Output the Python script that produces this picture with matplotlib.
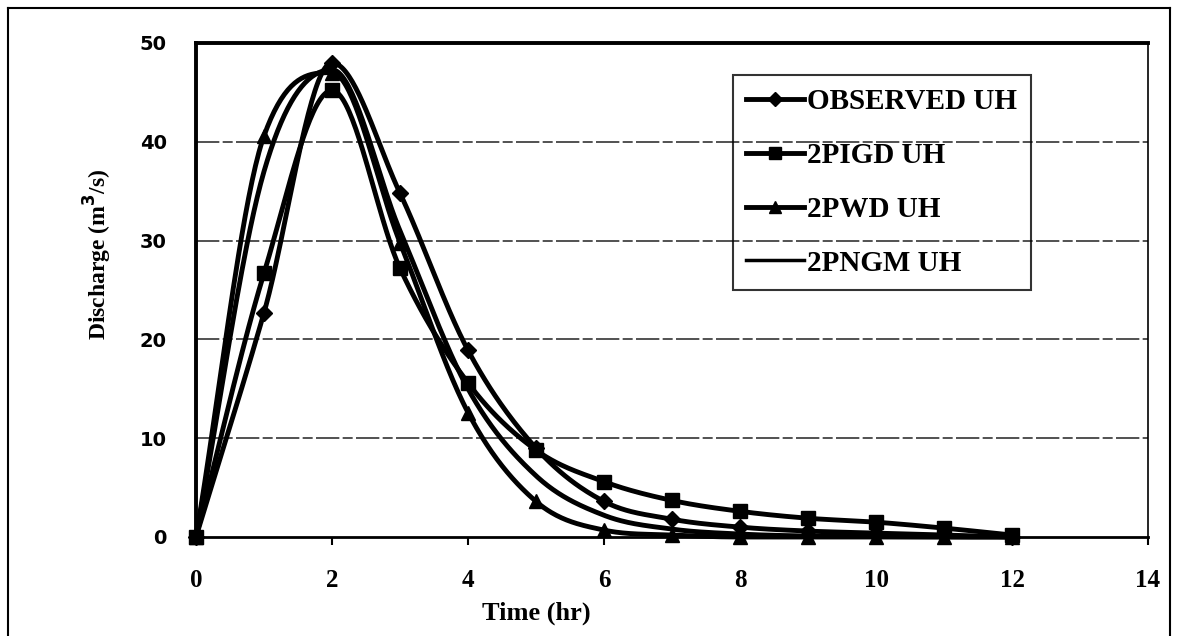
import numpy as np
import matplotlib
matplotlib.use("Agg")
import matplotlib.pyplot as plt
from matplotlib.lines import Line2D

time_hr = [0, 1, 2, 3, 4, 5, 6, 7, 8, 9, 10, 11, 12]
observed = [0, 22.7, 48.0, 34.8, 18.9, 9.0, 3.6, 1.8, 1.0, 0.6, 0.4, 0.2, 0.0]
pigd = [0, 26.7, 45.2, 27.2, 15.6, 8.8, 5.6, 3.7, 2.6, 1.9, 1.5, 0.9, 0.2]
pwd = [0, 40.6, 47.0, 29.8, 12.6, 3.6, 0.7, 0.2, 0.0, 0.0, 0.0, 0.0, 0.0]
pngm = [0, 37.0, 47.3, 31.0, 15.0, 6.2, 2.2, 0.8, 0.3, 0.1, 0.05, 0.0, 0.0]

labels = ["OBSERVED UH", "2PIGD UH", "2PWD UH", "2PNGM UH"]
yticks = [0, 10, 20, 30, 40, 50]
xticks = [0, 2, 4, 6, 8, 10, 12, 14]


def smooth(x, y, n=40):
    # smoothed line drawn through the data points (Catmull-Rom tangents,
    # limited so the curve does not overshoot the peaks)
    x = np.asarray(x, float)
    y = np.asarray(y, float)
    h = np.diff(x)
    d = np.diff(y) / h
    m = np.zeros_like(y)
    m[0], m[-1] = d[0], d[-1]
    for i in range(1, len(x) - 1):
        if d[i - 1] * d[i] <= 0:
            m[i] = 0.0
        else:
            m[i] = (y[i + 1] - y[i - 1]) / (x[i + 1] - x[i - 1])
    for i in range(len(x) - 1):
        if d[i] == 0:
            m[i] = m[i + 1] = 0.0
            continue
        a = m[i] / d[i]
        b = m[i + 1] / d[i]
        s = a * a + b * b
        if s > 9:
            tau = 3 / np.sqrt(s)
            m[i] = tau * a * d[i]
            m[i + 1] = tau * b * d[i]
    xs, ys = [], []
    for i in range(len(x) - 1):
        t = np.linspace(0, 1, n, endpoint=(i == len(x) - 2))
        h00 = 2 * t ** 3 - 3 * t ** 2 + 1
        h10 = t ** 3 - 2 * t ** 2 + t
        h01 = -2 * t ** 3 + 3 * t ** 2
        h11 = t ** 3 - t ** 2
        xs.append(x[i] + t * h[i])
        ys.append(h00 * y[i] + h10 * h[i] * m[i] + h01 * y[i + 1] + h11 * h[i] * m[i + 1])
    return np.concatenate(xs), np.concatenate(ys)


plt.rcParams['font.family'] = ['Liberation Serif', 'DejaVu Serif']
plt.rcParams['font.weight'] = 'bold'

fig = plt.figure(figsize=(11.78, 6.36), dpi=100)
ax = fig.add_axes([196 / 1178, 1 - 537 / 636, (1148 - 196) / 1178, (537 - 43) / 636])

lw = 3.5
series = [
    (observed, 'D', 8),
    (pigd, 's', 9.5),
    (pwd, '^', 9.5),
    (pngm, None, 0),
]
for vals, mk, ms in series:
    sx, sy = smooth(time_hr, vals)
    ax.plot(sx, sy, color='black', lw=lw, solid_capstyle='round', clip_on=False, zorder=3)
    if mk:
        ax.plot(time_hr, vals, linestyle='none', marker=mk, markersize=ms,
                color='black', clip_on=False, zorder=4)

ax.set_xlim(0, 14)
ax.set_ylim(0, 50)
ax.set_xticks(xticks)
ax.set_yticks(yticks)
ax.tick_params(axis='x', direction='out', length=6, width=1.5, labelsize=18, pad=17)
ax.tick_params(axis='y', length=0, labelsize=14, pad=21)
for lab in ax.get_xticklabels():
    lab.set_fontweight('bold')
for lab in ax.get_yticklabels():
    lab.set_fontweight('bold')
    lab.set_family('DejaVu Sans')

for y in yticks[1:-1]:
    ax.axhline(y, color='#333333', lw=1.2, ls=(0, (14, 2, 6, 2)), zorder=1)

ax.spines['left'].set_linewidth(2.8)
ax.spines['bottom'].set_linewidth(2.0)
ax.spines['top'].set_linewidth(2.8)
ax.spines['right'].set_linewidth(1.2)

ax.set_ylabel("Discharge (m$^\\mathbf{3}$/s)", fontsize=17, fontweight='bold')
ax.set_xlabel("Time (hr)", fontsize=19, fontweight='bold')
ax.xaxis.set_label_coords((536 - 196) / 952, -(613 - 537) / 494)
ax.yaxis.set_label_coords(-(196 - 98) / 952, (537 - 254) / 494)
ax.yaxis.label.set_va('center')
ax.xaxis.label.set_va('center')

handles = [
    Line2D([], [], color='black', lw=lw, marker='D', markersize=7),
    Line2D([], [], color='black', lw=lw, marker='s', markersize=9),
    Line2D([], [], color='black', lw=lw, marker='^', markersize=9),
    Line2D([], [], color='black', lw=2.5),
]
leg = ax.legend(handles, labels, loc='upper left', bbox_to_anchor=((733 - 196) / 952, (537 - 75) / 494),
                frameon=True, fancybox=False, edgecolor='black', facecolor='none',
                prop={'family': 'Liberation Serif', 'weight': 'bold', 'size': 21},
                handlelength=2.0, handletextpad=0.1, labelspacing=0.92, borderpad=0.45,
                borderaxespad=0)
leg.get_frame().set_linewidth(1.5)

# outer chart border
fig.add_artist(Line2D([8 / 1178, 8 / 1178], [0, 1 - 8 / 636], transform=fig.transFigure, color='black', lw=1.5))
fig.add_artist(Line2D([8 / 1178, 1170 / 1178], [1 - 8 / 636, 1 - 8 / 636], transform=fig.transFigure, color='black', lw=1.5))
fig.add_artist(Line2D([1170 / 1178, 1170 / 1178], [0, 1 - 8 / 636], transform=fig.transFigure, color='black', lw=1.5))

fig.savefig("out.png", dpi=100)
